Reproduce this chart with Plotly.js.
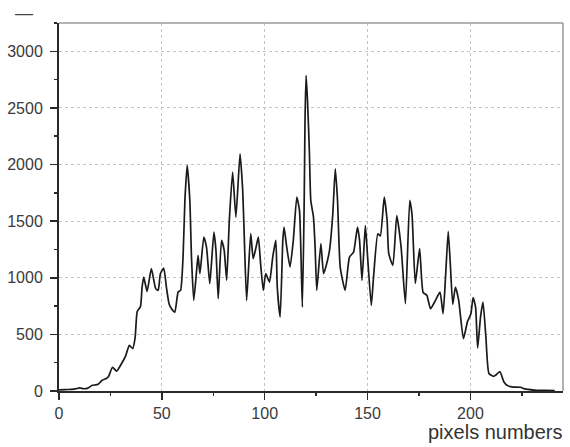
<!DOCTYPE html>
<html>
<head>
<meta charset="utf-8">
<script src="https://cdn.plot.ly/plotly-3.0.1.min.js"></script>
<style>html,body{margin:0;padding:0;background:#fff;}#chart{width:570px;height:447px;}</style>
</head>
<body>
<div id="chart"></div>
<script>
// pixel positions
const pixelX = [0,3,6,8,10,12,14,16,19,21,23,24,26,28,30.5,32.3,34.2,35.8,37,38,39.6,40.4,41.2,42.8,44.9,47,48.2,49.3,50.9,52.2,53.5,54.7,56.3,57.9,59.1,60.3,61.2,62.3,63.6,64.4,65.5,66.9,67.6,68.5,70.4,71.7,73.3,75.3,76.3,77.4,79,80.3,81.5,82.8,84.4,86,88,89.3,90,91.2,93.2,94.4,95.8,96.9,98,99.3,100.5,102.3,103.9,105.4,106.1,107.5,108.8,109.4,110.7,112.3,113.9,115.6,116.9,118.3,119.2,119.6,120.1,120.8,121.7,122.4,123.7,124.5,125.3,127.3,128.6,129.9,131.5,133.1,134.3,135.4,136.7,139.1,141.2,143.2,145.1,146.1,147.3,148.9,149.7,151.8,152.9,155,156.2,158.1,159.5,160.3,162.3,164.2,166.3,168.4,170.5,171.6,173.2,175.3,177,178.8,180.6,183,185.2,186.7,187.9,189.2,190.2,191.4,192.7,194.3,196.6,198.6,200.2,201.3,202.5,203.5,204.9,206.1,207.5,209,211.2,212.2,214.3,216.3,218,221,224.4,226,231,236,241];
const intensity = [10,12,15,18,28,20,25,48,60,95,110,125,210,175,245,305,403,375,470,700,745,918,1006,880,1080,904,889,1036,1085,918,771,727,697,874,889,1183,1683,1992,1683,1183,800,1065,1198,1036,1359,1271,948,1403,1242,815,1330,1242,977,1507,1933,1536,2095,1771,1400,800,1389,1168,1271,1359,1125,889,1036,962,1183,1330,918,653,1330,1448,1271,1094,1330,1712,1595,741,1683,2400,2787,2566,2124,1683,1536,1271,889,1301,1036,1109,1242,1566,1963,1683,1094,889,1183,1227,1448,1330,977,1460,1271,756,1006,1389,1370,1712,1507,1213,1110,1550,1271,771,1683,1560,950,1257,870,845,727,800,874,683,1006,1410,1130,765,918,800,462,615,680,825,741,380,653,786,480,154,130,139,172,80,48,35,33,21,8,5,3];
const xTicks = [0,50,100,150,200];
const yTicks = [0,500,1000,1500,2000,2500,3000];
const xTitle = 'pixels numbers';

const trace = {
  x: pixelX, y: intensity, type: 'scatter', mode: 'lines',
  line: {color: '#1a1a1a', width: 1.7, shape: 'spline', smoothing: 0.5},
  hoverinfo: 'skip', showlegend: false
};

const tickFont = {family: 'Liberation Sans, Arial, sans-serif', size: 16, color: '#3a3a3a'};

const layout = {
  width: 570, height: 447,
  margin: {l: 59, r: 7, t: 23, b: 56},
  paper_bgcolor: '#fff', plot_bgcolor: '#fff',
  xaxis: {
    range: [0, 245], tickmode: 'array', tickvals: xTicks, ticktext: xTicks.map(String),
    showgrid: true, gridcolor: '#c4c4c4', griddash: 'dot', gridwidth: 1,
    zeroline: false, showline: true, linecolor: '#2a2a2a', linewidth: 2,
    ticks: 'outside', ticklen: 7, tickwidth: 1.5, tickcolor: '#2a2a2a',
    minor: {dtick: 25, ticks: 'outside', ticklen: 3, tickwidth: 1.5, tickcolor: '#2a2a2a', showgrid: false},
    tickfont: tickFont, fixedrange: true
  },
  yaxis: {
    range: [0, 3250], tickmode: 'array', tickvals: yTicks, ticktext: yTicks.map(String),
    showgrid: true, gridcolor: '#c4c4c4', griddash: 'dot', gridwidth: 1,
    zeroline: false, showline: true, linecolor: '#2a2a2a', linewidth: 2,
    ticks: 'outside', ticklen: 7, tickwidth: 1.5, tickcolor: '#2a2a2a',
    minor: {dtick: 250, ticks: 'outside', ticklen: 3, tickwidth: 1.5, tickcolor: '#2a2a2a', showgrid: false},
    tickfont: tickFont, ticklabelstandoff: 4, fixedrange: true
  },
  shapes: [
    {type: 'line', xref: 'paper', yref: 'paper', x0: 0, x1: 1, y0: 1, y1: 1, line: {color: '#9a9a9a', width: 1.5}},
    {type: 'line', xref: 'paper', yref: 'paper', x0: 1, x1: 1, y0: 0, y1: 1, line: {color: '#9a9a9a', width: 1.5}}
  ],
  annotations: [
    {text: xTitle, xref: 'paper', yref: 'paper', x: 1.004, y: -0.112, xanchor: 'right', yanchor: 'middle',
     showarrow: false, font: {family: 'Liberation Sans, Arial, sans-serif', size: 20, color: '#333'}},
    {text: '—', xref: 'paper', yref: 'paper', x: -0.069, y: 1.026, xanchor: 'center', yanchor: 'middle',
     showarrow: false, font: {family: 'Liberation Sans, Arial, sans-serif', size: 18, color: '#444'}}
  ]
};

Plotly.newPlot('chart', [trace], layout, {staticPlot: true, displayModeBar: false});
</script>
</body>
</html>
